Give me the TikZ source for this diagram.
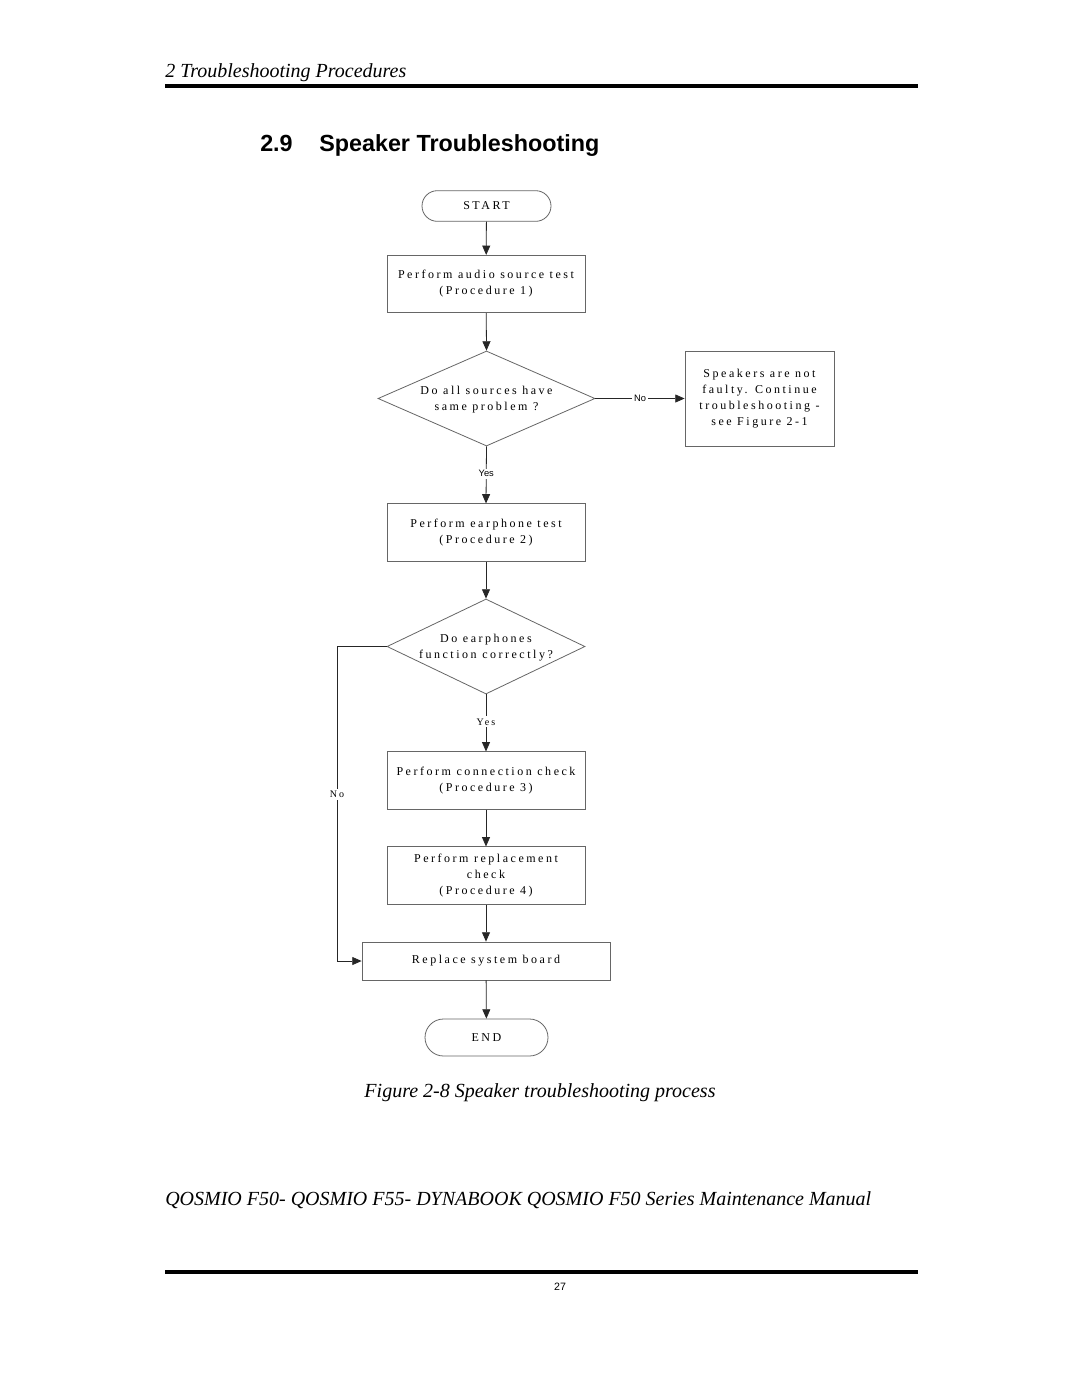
\documentclass[tikz,border=0pt]{standalone}
\usepackage{fontspec}
\setmainfont{Liberation Serif}
\newfontfamily\flowfont[LetterSpace=21]{Liberation Serif}
\newfontfamily\arialfont{Liberation Sans}
\usetikzlibrary{shapes.geometric,shapes.misc,arrows.meta}
\tikzset{
  procbox/.style={draw=black!60, line width=0.6pt, rectangle, minimum width=148.5pt, minimum height=43pt, inner sep=0pt, align=center, font=\flowfont\fontsize{9}{12}\selectfont},
  termbox/.style={draw=black!60, line width=0.6pt, rounded rectangle, minimum height=23pt, inner sep=0pt, font=\flowfont\fontsize{9}{12}\selectfont},
  decision/.style={draw=black!60, line width=0.6pt, diamond, inner sep=0pt},
  dtext/.style={align=center, inner sep=0pt, font=\flowfont\fontsize{9}{12}\selectfont},
  arr/.style={draw=black!85, line width=0.6pt, -{Triangle[length=7pt,width=6pt]}},
  sanslabel/.style={fill=white, inner sep=1.5pt, font=\arialfont\fontsize{7}{8}\selectfont},
  seriflabel/.style={fill=white, inner sep=1.5pt, font=\flowfont\fontsize{7.5}{8}\selectfont},
}
\begin{document}
\begin{tikzpicture}[x=0.75pt,y=-0.75pt]
\useasboundingbox[fill=white] (0,0) rectangle (1080,1397);
% header
\node[anchor=base west, inner sep=0pt, font=\itshape\fontsize{15}{17}\selectfont] (hdr) at (165,77) {2 Troubleshooting Procedures};
\draw[line width=3pt] (165,86) -- (918,86);
\node[anchor=base west, inner sep=0pt, font=\arialfont\bfseries\fontsize{17.5}{20}\selectfont] (secnum) at (260,151) {2.9};
\node[anchor=base west, inner sep=0pt, font=\arialfont\bfseries\fontsize{17.5}{20}\selectfont] (sectitle) at (319,151) {Speaker Troubleshooting};
% flowchart
\node[termbox, minimum width=96.75pt] (start) at (486.5,206) {START};
\node[procbox] (b1) at (486,284) {Perform audio source test\\(Procedure 1)};
\node[decision, minimum width=162.75pt, minimum height=71.25pt] (d1) at (486.5,398.5) {};
\node[dtext] (d1t) at (486.5,400) {Do all sources have\\same problem ?};
\node[procbox, minimum width=111.75pt, minimum height=71.25pt] (br) at (759.5,398.5) {Speakers are not\\faulty. Continue\\troubleshooting -\\see Figure 2-1};
\node[procbox] (b2) at (486,532.5) {Perform earphone test\\(Procedure 2)};
\node[decision, minimum width=148.5pt, minimum height=71.25pt] (d2) at (486,646.5) {};
\node[dtext] (d2t) at (486,648) {Do earphones\\function correctly?};
\node[procbox] (b3) at (486,780.5) {Perform connection check\\(Procedure 3)};
\node[procbox] (b4) at (486,875.5) {Perform replacement\\check\\(Procedure 4)};
\node[procbox, minimum width=186pt, minimum height=28.5pt] (b5) at (486,961) {Replace system board};
\node[termbox, minimum width=92.25pt, minimum height=27.75pt] (end) at (486.5,1037.5) {END};
\coordinate (lc1) at (337,646.5);
\coordinate (lc2) at (lc1 |- b5.west);
% connectors
\draw[arr] (start) -- (b1);
\draw[arr] (b1) -- (d1.north);
\draw[arr] (d1.east) -- node[sanslabel] {No} (br.west);
\draw[arr] (d1.south) -- node[sanslabel, pos=0.48] {Yes} (b2.north);
\draw[arr] (b2) -- (d2.north);
\draw[arr] (d2.south) -- node[seriflabel, pos=0.48] {Yes} (b3.north);
\draw[arr] (b3) -- (b4);
\draw[arr] (b4) -- (b5);
\draw[arr] (b5) -- (end);
\draw[arr] (d2.west) -- (lc1) -- node[seriflabel, pos=0.47] {No} (lc2) -- (b5.west);
% caption and footer
\node[anchor=base, inner sep=0pt, font=\itshape\fontsize{15}{17}\selectfont] (cap) at (540,1097) {Figure 2-8 Speaker troubleshooting process};
\node[anchor=base west, inner sep=0pt, font=\itshape\fontsize{15}{17}\selectfont] (ftr) at (165,1205) {QOSMIO F50- QOSMIO F55- DYNABOOK QOSMIO F50 Series Maintenance Manual};
\draw[line width=3pt] (165,1272) -- (918,1272);
\node[anchor=base, inner sep=0pt, font=\arialfont\fontsize{8}{10}\selectfont] (pg) at (560,1290) {27};
\end{tikzpicture}
\end{document}
